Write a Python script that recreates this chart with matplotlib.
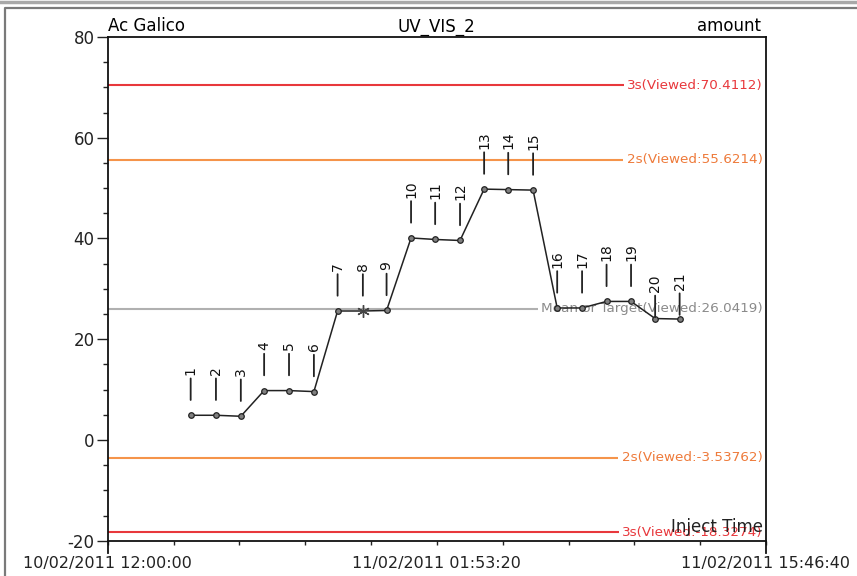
import matplotlib
matplotlib.use('Agg')
import matplotlib.pyplot as plt
import matplotlib.dates as mdates
from matplotlib.lines import Line2D
import pandas as pd

# injections of the control sample
inject_times = ['2011-02-10 15:30', '2011-02-10 16:34', '2011-02-10 17:37', '2011-02-10 18:36',
                '2011-02-10 19:39', '2011-02-10 20:42', '2011-02-10 21:42', '2011-02-10 22:46',
                '2011-02-10 23:46', '2011-02-11 00:48', '2011-02-11 01:49', '2011-02-11 02:52',
                '2011-02-11 03:53', '2011-02-11 04:54', '2011-02-11 05:57', '2011-02-11 06:58',
                '2011-02-11 08:01', '2011-02-11 09:03', '2011-02-11 10:05', '2011-02-11 11:06',
                '2011-02-11 12:08']
amounts = [4.9, 4.9, 4.7, 9.8, 9.8, 9.6, 25.6, 25.6, 25.7, 40.1, 39.8, 39.6,
           49.8, 49.7, 49.6, 26.2, 26.2, 27.5, 27.5, 24.1, 24.0]
flagged = [8]  # injection drawn with a star

mean_value = 26.0419
limits = [('3s', 70.4112), ('2s', 55.6214), ('2s', -3.53762), ('3s', -18.3274)]
limit_colors = {'3s': '#e8383c', '2s': '#f5944a'}
limit_text_colors = {'3s': '#e8383c', '2s': '#ee7a3a'}

x_start = pd.Timestamp('2011-02-10 12:00:00')
x_end = pd.Timestamp('2011-02-11 15:46:40')

plt.rcParams['font.family'] = 'DejaVu Sans'
plt.rcParams['axes.unicode_minus'] = False

fig = plt.figure(figsize=(8.57, 5.76), dpi=100)
ax = fig.add_axes([0.1257, 0.0613, 0.7681, 0.8745])

times = pd.to_datetime(inject_times)
t = mdates.date2num(times)

label_box = dict(boxstyle='square,pad=0.25', fc='white', ec='none')

# control limit lines with their labels on the right
for name, val in limits:
    ax.axhline(val, color=limit_colors[name], lw=1.5, zorder=1)
    ax.text(0.995, val, name + '(Viewed:' + ('%g' % val if abs(val) < 10 else '%.4f' % val) + ')',
            transform=ax.get_yaxis_transform(), ha='right', va='center', fontsize=9.7,
            color=limit_text_colors[name], zorder=2, bbox=label_box)

ax.axhline(mean_value, color='#b0b0b0', lw=1.5, zorder=1)
ax.text(0.995, mean_value, 'Mean or Target(Viewed:%.4f)' % mean_value,
        transform=ax.get_yaxis_transform(), ha='right', va='center', fontsize=9.7,
        color='#8a8a8a', zorder=2, bbox=label_box)

# the run itself
ax.plot(t, amounts, color='#222222', lw=1.1, zorder=3)
for i, (x, y) in enumerate(zip(t, amounts)):
    n = i + 1
    if n in flagged:
        ax.plot(x, y, marker=(6, 2, 0), ms=9, color='#444444', mew=1.0, zorder=4)
    else:
        ax.plot(x, y, marker='o', ms=4, mfc='#808080', mec='#222222', mew=0.9, zorder=4)
    drop = {20: 10, 21: 8}.get(n, 0)
    ax.annotate(str(n), xy=(x, y), xytext=(0, 29 - drop), textcoords='offset points',
                rotation=90, ha='center', va='bottom', fontsize=10, color='#111111',
                arrowprops=dict(arrowstyle='-', lw=1.3, color='#222222', relpos=(0.5, 0),
                                shrinkA=0.5, shrinkB=max(11 - drop, 1)),
                zorder=5)

ax.set_ylim(-20, 80)
ax.set_xlim(mdates.date2num(x_start), mdates.date2num(x_end))
ax.set_yticks([-20, 0, 20, 40, 60, 80])
ax.set_yticks(range(-20, 81, 5), minor=True)
x0, x1 = ax.get_xlim()
ax.set_xticks([x0, (x0 + x1) / 2, x1])
ax.set_xticks([x0 + (x1 - x0) * k / 10 for k in range(11)], minor=True)
ax.xaxis.set_major_formatter(mdates.DateFormatter('%d/%m/%Y %H:%M:%S'))

ax.tick_params(axis='y', which='major', length=8, width=1, labelsize=12, pad=1.5, colors='#222222')
ax.tick_params(axis='y', which='minor', length=3.5, width=1, colors='#222222')
ax.tick_params(axis='x', which='both', length=3, width=1, labelsize=11.5, pad=8,
               colors='#222222')
for s in ax.spines.values():
    s.set_linewidth(1.3)
    s.set_color('#111111')
    s.set_zorder(6)

# axis frame extends below the time axis
for xa in (0, 1):
    ax.add_line(Line2D([xa, xa], [0, -0.025], transform=ax.transAxes, color='#111111',
                       lw=1.3, clip_on=False))

ax.text(0.0, 1.011, 'Ac Galico', transform=ax.transAxes, ha='left', va='baseline', fontsize=12)
ax.text(0.5, 1.011, 'UV_VIS_2', transform=ax.transAxes, ha='center', va='baseline', fontsize=12)
ax.text(0.992, 1.011, 'amount', transform=ax.transAxes, ha='right', va='baseline', fontsize=12)
ax.text(0.995, 0.027, 'Inject Time', transform=ax.transAxes, ha='right', va='center',
        fontsize=12, color='#222222', zorder=6)

# window border
fig.add_artist(Line2D([0, 1], [1 - 2 / 576, 1 - 2 / 576], transform=fig.transFigure,
                      color='#a8a8a8', lw=2.5))
fig.add_artist(Line2D([5 / 857, 5 / 857, 1.0], [0, 1 - 7.5 / 576, 1 - 7.5 / 576],
                      transform=fig.transFigure, color='#7a7a7a', lw=1.6))

fig.savefig('out.png', dpi=100)
